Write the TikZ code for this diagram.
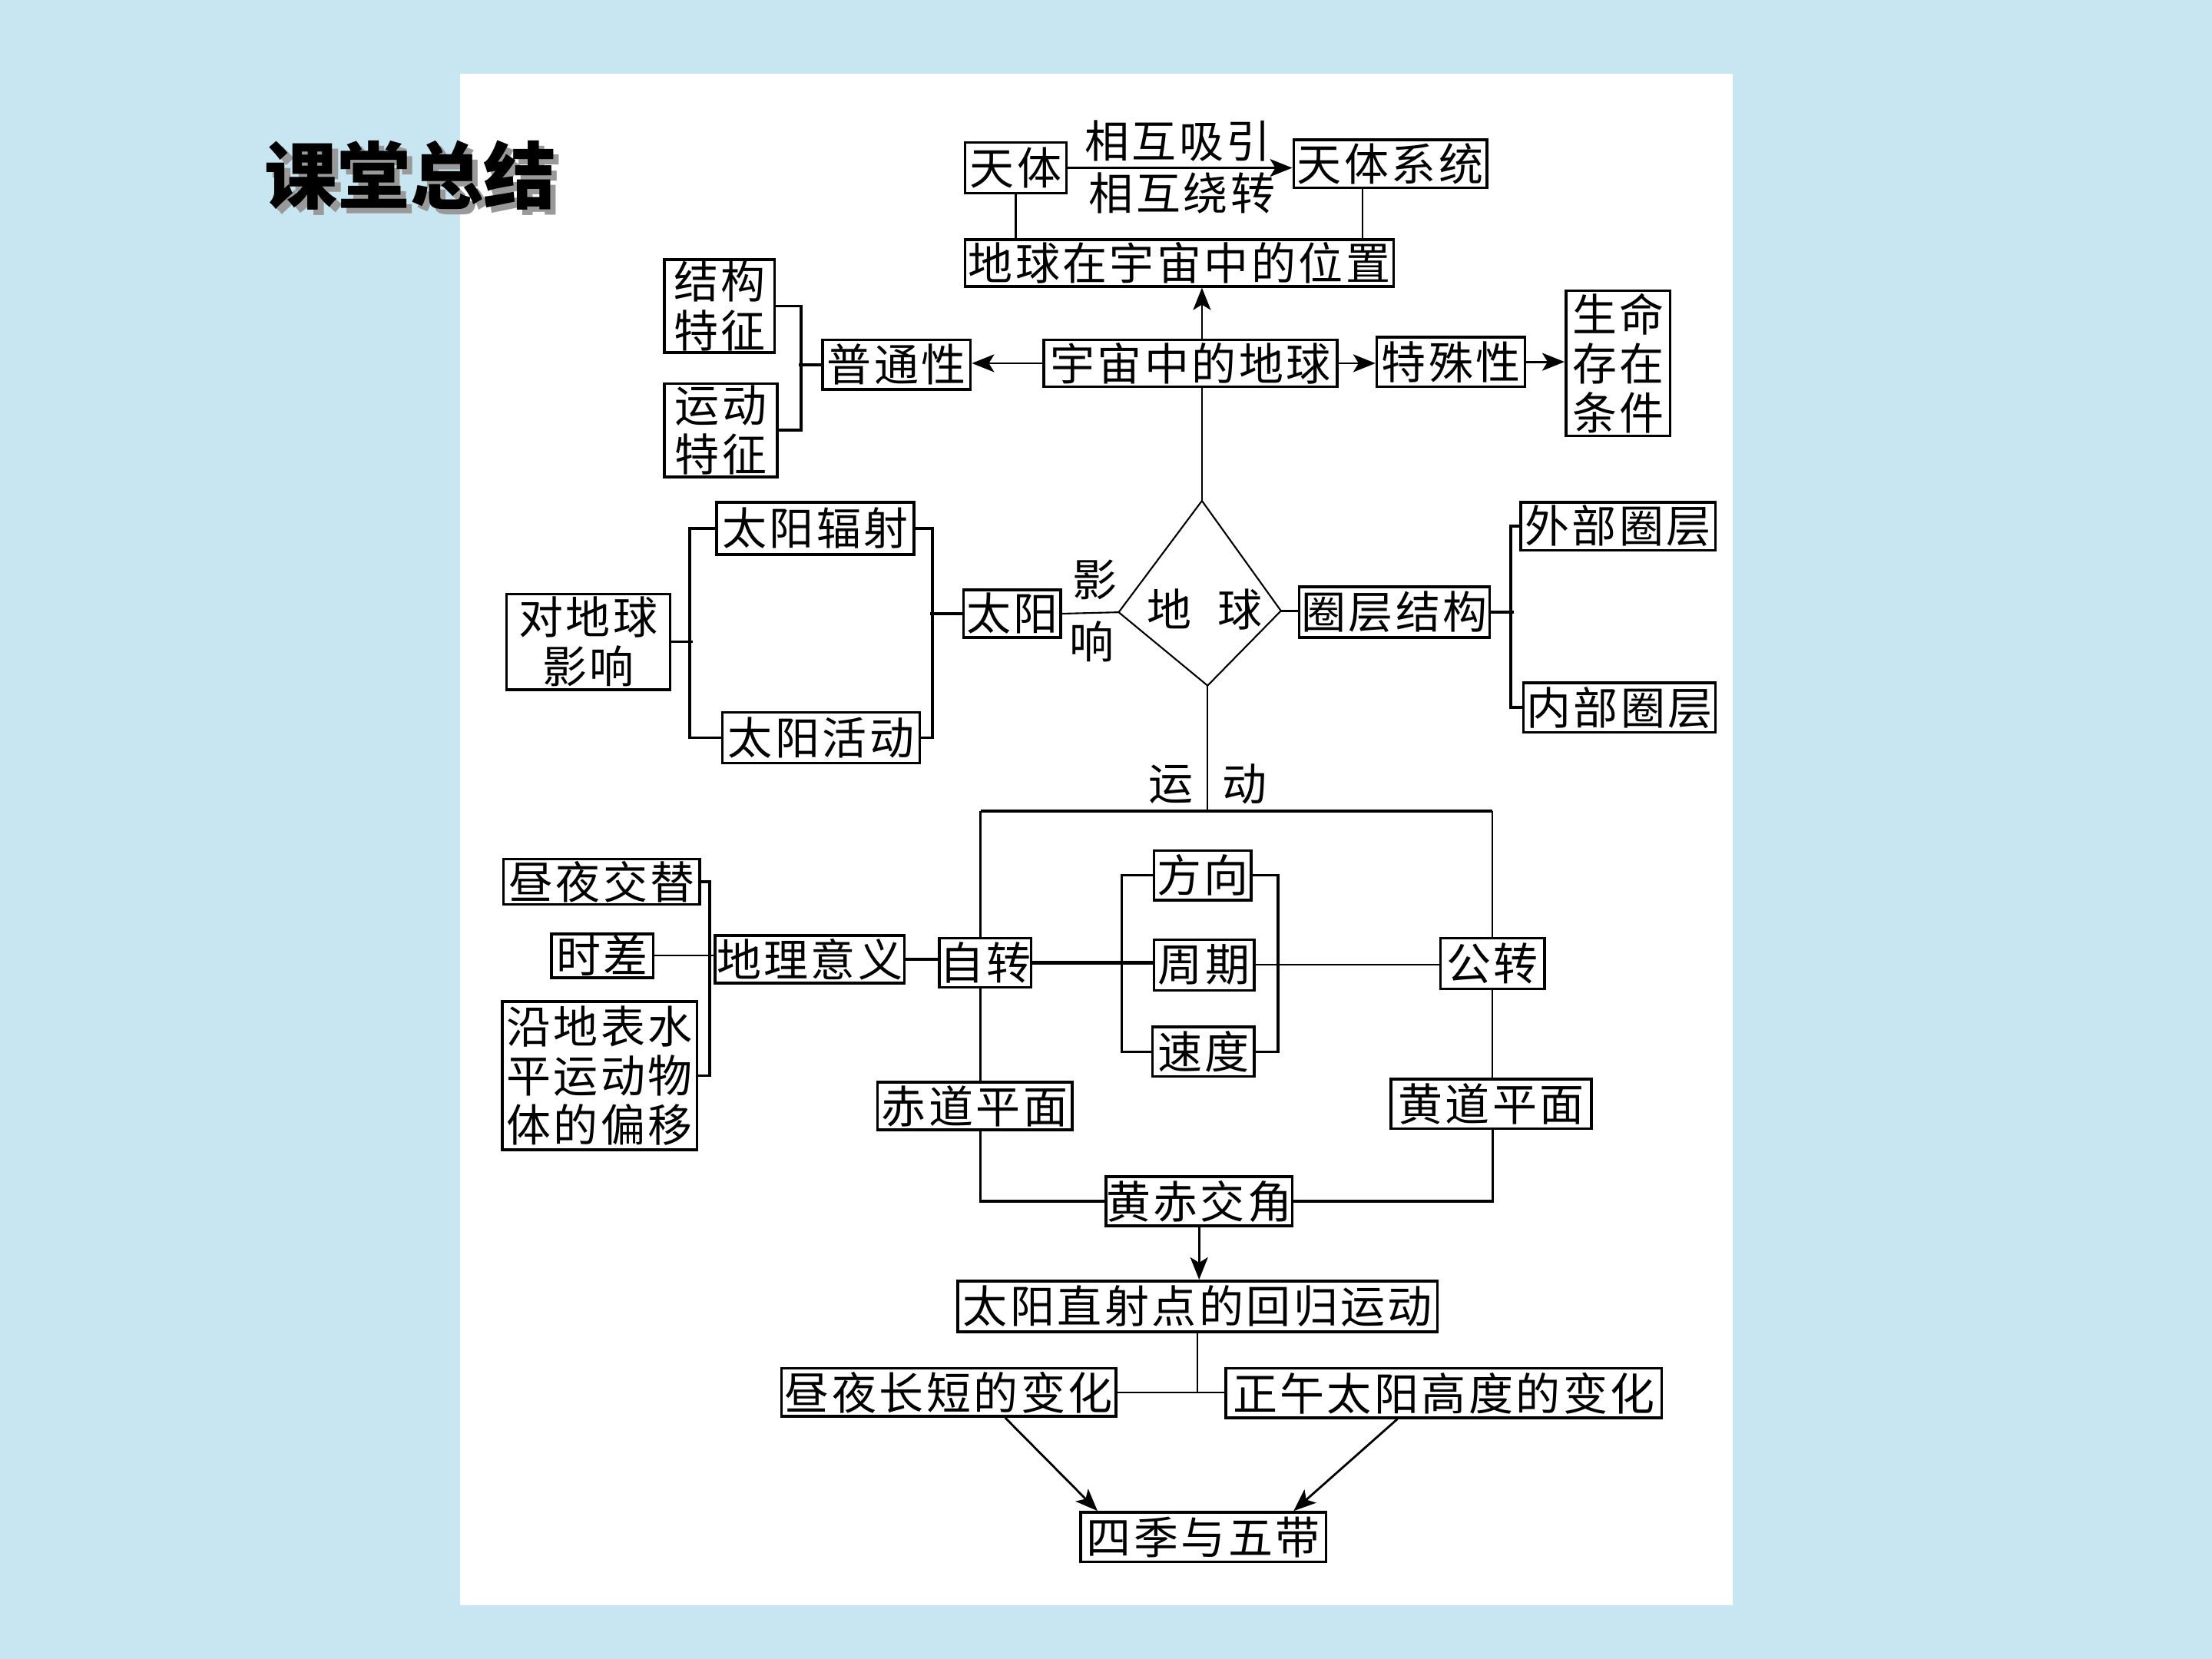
\documentclass[tikz,border=0pt]{standalone}
\usepackage{fontspec}
\newfontfamily\cjk[LetterSpace=6]{Noto Sans CJK SC}
\newfontfamily\cjktitle{Noto Sans CJK SC}
\usetikzlibrary{arrows.meta,shapes.geometric}
\newlength\pu \setlength\pu{0.18367mm}
\definecolor{bgblue}{RGB}{200,229,242}
\tikzset{
  bx/.style 2 args={draw, line width=1pt, minimum width=#1*\pu, minimum height=#2*\pu,
    inner sep=0pt, align=center, font={\cjk\fontsize{16.5pt}{18.2pt}\selectfont}},
  lbl/.style={inner sep=0pt, font={\cjk\fontsize{16.5pt}{18.2pt}\selectfont}},
  ln/.style={line width=0.6pt},
  tk/.style={line width=1pt},
  arr/.style={line width=0.8pt, -{Stealth[length=2.9mm,width=2.3mm,inset=0.7mm]}},
}
\begin{document}
\begin{tikzpicture}[x=0.18367mm,y=-0.18367mm]
\useasboundingbox (0,0) rectangle (1568,1176);
\fill[bgblue] (0,0) rectangle (1568,1176);
\fill[white] (326,52) rectangle (1228,1138);
% title
\node[inner sep=0pt, text=black!40, font={\cjktitle\bfseries\fontsize{27pt}{30pt}\selectfont}] (titleshadow) at (295,128) {课堂总结};
\node[inner sep=0pt, font={\cjktitle\bfseries\fontsize{27pt}{30pt}\selectfont}] (title) at (291,124) {课堂总结};
% nodes
\node[bx={72}{36}] (tianti) at (720,119) {天体};
\node[bx={137}{34}] (txt) at (985.5,116) {天体系统};
\node[lbl] (xy1) at (835,100) {相互吸引};
\node[lbl] (xy2) at (838,137) {相互绕转};
\node[bx={304}{33}] (pos) at (836,186.5) {地球在宇宙中的位置};
\node[bx={208}{33}] (yz) at (844,257.5) {宇宙中的地球};
\node[bx={105}{35}] (pt) at (635.5,258.5) {普通性};
\node[bx={105}{35}] (ts) at (1028.5,256.5) {特殊性};
\node[bx={74}{103}] (sm) at (1147,257.5) {生命\\存在\\条件};
\node[bx={78}{66}] (jg) at (510,217) {结构\\特征};
\node[bx={80}{66}] (yd) at (511,305) {运动\\特征};
\node[bx={140}{37}] (tyfs) at (578,374.5) {太阳辐射};
\node[bx={140}{36}] (tyhd) at (582,523) {太阳活动};
\node[bx={69}{34}] (ty) at (717.5,435) {太阳};
\node[bx={116}{68}] (dq) at (417,455) {对地球\\影响};
\node[bx={135}{36}] (qc) at (988.5,434) {圈层结构};
\node[bx={138}{34}] (wb) at (1147,373) {外部圈层};
\node[bx={136}{35}] (nb) at (1148,501.5) {内部圈层};
\node[bx={65}{35}] (zz) at (698.5,682.5) {自转};
\node[bx={74}{36}] (gz) at (1058,683) {公转};
\node[bx={69}{35}] (fx) at (852.5,620.5) {方向};
\node[bx={71}{36}] (zq) at (853.5,684) {周期};
\node[bx={72}{35}] (sd) at (853,745.5) {速度};
\node[bx={134}{34}] (dlyy) at (574,680) {地理意义};
\node[bx={139}{32}] (zy) at (426.5,625) {昼夜交替};
\node[bx={72}{31}] (sc) at (427,677.5) {时差};
\node[bx={138}{105}] (py) at (425,762.5) {沿地表水\\平运动物\\体的偏移};
\node[bx={138}{34}] (cd) at (691,784) {赤道平面};
\node[bx={142}{35}] (hd) at (1057,782.5) {黄道平面};
\node[bx={132}{35}] (hc) at (850,851.5) {黄赤交角};
\node[bx={340}{36}] (zs) at (849,926) {太阳直射点的回归运动};
\node[bx={237}{34}] (zycd) at (672.5,987) {昼夜长短的变化};
\node[bx={309}{35}] (zw) at (1023.5,987.5) {正午太阳高度的变化};
\node[bx={174}{35}] (sj) at (853,1089.5) {四季与五带};
% diamond
\coordinate (dmT) at (852,355);
\coordinate (dmR) at (908,433);
\coordinate (dmB) at (856,486);
\coordinate (dmL) at (793,434);
\draw[ln] (dmT) -- (dmR) -- (dmB) -- (dmL) -- cycle;
\node[lbl] (earth) at (854,432) {地\hspace{0.6em}球};
\node[lbl] (yx1) at (776,411) {影};
\node[lbl] (yx2) at (774,455) {响};
\node[lbl] (yd1) at (830,556) {运};
\node[lbl] (yd3) at (882,556) {动};
% helper coordinates
\coordinate (cx) at (852,0);
\coordinate (tr) at (966,0);
\coordinate (hl) at (695,575);
\coordinate (hr) at (1058,575);
% top connectors
\draw[arr] (tianti.east) -- (tianti.east -| txt.west);
\draw[ln] (tianti.south) -- (tianti.south |- pos.north);
\draw[ln] (tr |- txt.south) -- (tr |- pos.north);
\draw[arr] (cx |- yz.north) -- (cx |- pos.south);
\draw[arr] (yz.west) -- (yz.west -| pt.east);
\draw[arr] (yz.east) -- (yz.east -| ts.west);
\draw[arr] (ts.east) -- (ts.east -| sm.west);
\draw[tk] (jg.east) -- ++(18,0) |- (yd.east);
\draw[tk] (pt.west) -- ++(-16,0);
\draw[ln] (cx |- yz.south) -- (dmT);
% sun
\draw[ln] (ty.east) -- (dmL);
\draw[tk] (tyfs.east) -- ++(12,0) |- (tyhd.east);
\draw[tk] (ty.west) -- ++(-23,0);
\draw[tk] (tyfs.west) -- ++(-18,0) |- (tyhd.west);
\draw[tk] (dq.east) -- ++(15,0);
% spheres
\draw[tk] (dmR) -- (dmR -| qc.west);
\draw[tk] (qc.east) -- ++(16,0);
\draw[tk] (wb.west) -- ++(-6,0) |- (nb.west);
% motion
\draw[ln] (dmB) -- (dmB |- hl);
\draw[line width=1.3pt] (hl) -- (hr);
\draw[ln] (hl) -- (hl |- zz.north);
\draw[ln] (hr) -- (hr |- gz.north);
\draw[line width=1.3pt] (zz.east) -- (zz.east -| zq.west);
\draw[tk] (fx.west) -- ++(-22,0) |- (sd.west);
\draw[tk] (fx.east) -- ++(18,0) |- (sd.east);
\draw[ln] (zq.east) -- (zq.east -| gz.west);
\draw[line width=1.3pt] (dlyy.east) -- (dlyy.east -| zz.west);
\draw[tk] (zy.east) -- ++(6,0) |- (py.east);
\draw[ln] (sc.east) -- (sc.east -| dlyy.west);
\draw[ln] (hl |- zz.south) -- (hl |- cd.north);
\draw[ln] (hr |- gz.south) -- (hr |- hd.north);
\draw[tk] (hl |- cd.south) |- (hc.west);
\draw[tk] (hr |- hd.south) |- (hc.east);
\draw[arr] (hc.south) -- (hc.south |- zs.north);
\draw[ln] (zs.south) -- (zs.south |- zycd.east);
\draw[ln] (zycd.east) -- (zycd.east -| zw.west);
\draw[arr] ([xshift=40*\pu]zycd.south) -- ([xshift=-75*\pu]sj.north);
\draw[arr] ([xshift=-33*\pu]zw.south) -- ([xshift=64*\pu]sj.north);
\end{tikzpicture}
\end{document}
